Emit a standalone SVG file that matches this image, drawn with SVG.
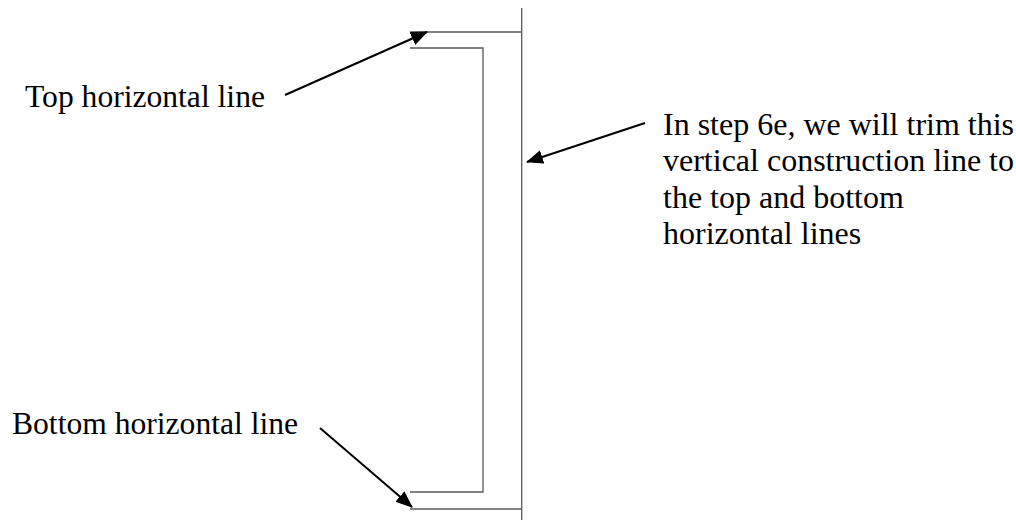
<svg xmlns="http://www.w3.org/2000/svg" width="1016" height="520" viewBox="0 0 1016 520">
<style>
.cl{stroke:#5a5a5a;stroke-width:1.3;fill:none}
.ar{stroke:#000;stroke-width:2;fill:none;marker-end:url(#ah)}
text{font-family:"Liberation Serif","Times New Roman",serif;font-size:31.6px;fill:#000}
.r{font-size:32px}
</style>
<defs>
<marker id="ah" markerUnits="userSpaceOnUse" viewBox="0 0 17 14" refX="16" refY="7" markerWidth="17" markerHeight="14" orient="auto">
<path d="M0,0 L17,7 L0,14 Z" fill="#000"/>
</marker>
</defs>
<rect width="1016" height="520" fill="#fff"/>
<g id="construction">
<line class="cl" x1="521.7" y1="8" x2="521.7" y2="520"/>
<line class="cl" x1="410" y1="32" x2="521.7" y2="32"/>
<line class="cl" x1="410" y1="509" x2="521.7" y2="509"/>
<polyline class="cl" points="410,48 483,48 483,492 410,492"/>
</g>
<g id="label-top"><text x="25" y="107">Top horizontal line</text></g>
<g id="label-bottom"><text x="12" y="434">Bottom horizontal line</text></g>
<g id="label-right"><text class="r" x="663" y="135">In step 6e, we will trim this</text><text class="r" x="663" y="171">vertical construction line to</text><text class="r" x="663" y="208">the top and bottom</text><text class="r" x="663" y="244">horizontal lines</text></g>
<g id="connectors">
<line class="ar" x1="285" y1="95" x2="427" y2="32"/>
<line class="ar" x1="645" y1="123" x2="527" y2="162"/>
<line class="ar" x1="320" y1="428" x2="412" y2="507"/>
</g>
</svg>
